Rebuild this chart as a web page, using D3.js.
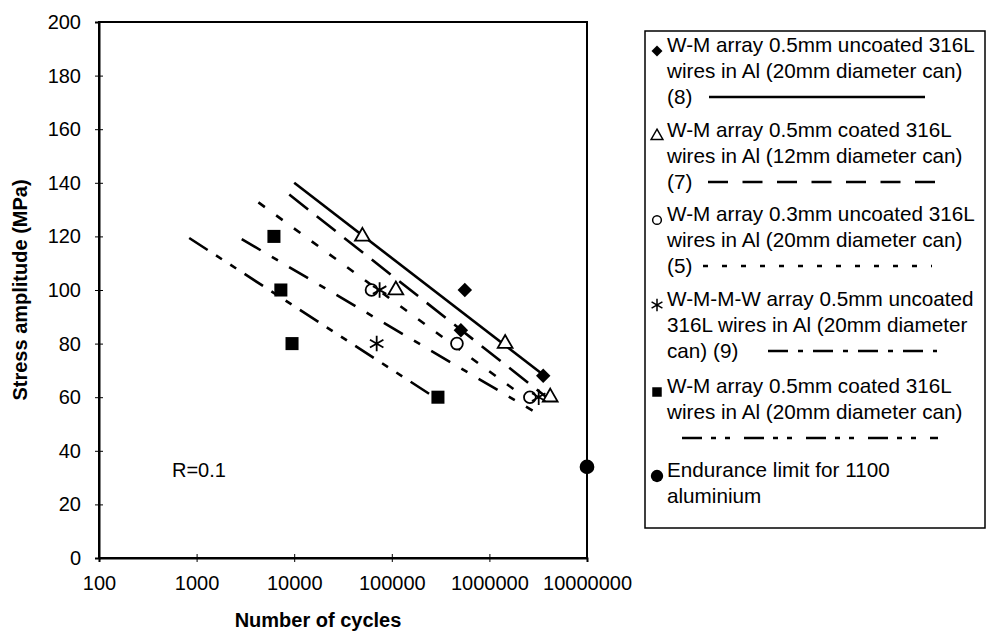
<!DOCTYPE html>
<head>
<meta charset="utf-8">
<style>
body {
    margin: 0;
    background: #fff;
}
text {
    font-family: "Liberation Sans", Arial, sans-serif;
    fill: #000;
}
.tick line, .domain {
    stroke: #000;
}
.axis-title {
    font-size: 20px;
    font-weight: bold;
}
.legend text {
    font-size: 20.7px;
}
</style>
</head>
<body>
    <div class="chart"></div>

<script src="https://d3js.org/d3.v7.min.js"></script>

<script>
// points: [cycles, stress amplitude MPa]
const uncoated05Wire20 = [[5.6e5, 100], [5.1e5, 85], [3.56e6, 68]];
const coated05Wire12 = [[5.0e4, 120], [1.1e5, 100], [1.45e6, 80], [4.2e6, 60]];
const uncoated03Wire20 = [[6.2e4, 100], [4.65e5, 80], [2.6e6, 60]];
const wmmwUncoated05 = [[7.5e4, 100], [7.0e4, 80], [3.2e6, 60]];
const coated05Wire20 = [[6.2e3, 120], [7.3e3, 100], [9.5e3, 80], [2.97e5, 60]];
const enduranceLimit = [[1e7, 34]];

// trend line ends as drawn in the picture
const trendUncoated05Wire20 = [[1.0e4, 140], [3.67e6, 68]];
const trendCoated05Wire12 = [[8.9e3, 135.6], [3.85e6, 60]];
const trendUncoated03Wire20 = [[4.3e3, 132.7], [2.4e6, 59.5]];
const trendWmmwUncoated05 = [[2.9e3, 119], [2.77e6, 55]];
const trendCoated05Wire20 = [[840, 119.4], [2.6e5, 60.5]];

const xTicks = [100, 1000, 10000, 100000, 1000000, 10000000];
const yTicks = [0, 20, 40, 60, 80, 100, 120, 140, 160, 180, 200];

const legendLabels = [
    ["W-M array 0.5mm uncoated 316L", "wires in Al (20mm diameter can)", "(8)"],
    ["W-M array 0.5mm coated 316L", "wires in Al (12mm diameter can)", "(7)"],
    ["W-M array 0.3mm uncoated 316L", "wires in Al (20mm diameter can)", "(5)"],
    ["W-M-M-W array 0.5mm uncoated", "316L wires in Al (20mm diameter", "can) (9)"],
    ["W-M array 0.5mm coated 316L", "wires in Al (20mm diameter can)"],
    ["Endurance limit for 1100", "aluminium"]
];

// how each series is drawn (diamond = square turned 45 degrees)
const series = [
    {points: uncoated05Wire20, trend: trendUncoated05Wire20, symbol: d3.symbolSquare, rotate: 45, size: 105, fill: "#000",
     dash: null, legendDash: null, legendLine: [709, 925], legendSize: 60},
    {points: coated05Wire12, trend: trendCoated05Wire12, symbol: d3.symbolTriangle, rotate: 0, size: 95, fill: "#fff",
     dash: "24,11", legendDash: "20,14.5", legendLine: [708, 937], legendSize: 60},
    {points: uncoated03Wire20, trend: trendUncoated03Wire20, symbol: d3.symbolCircle, rotate: 0, size: 110, fill: "#fff",
     dash: "8,14", legendDash: "5,14", legendLine: [703, 932], legendSize: 60},
    {points: wmmwUncoated05, trend: trendWmmwUncoated05, symbol: d3.symbolAsterisk, rotate: 0, size: 170, fill: "none",
     dash: "22,13,7,13", legendDash: "20,10,5,10", legendLine: [768, 937], legendSize: 110},
    {points: coated05Wire20, trend: trendCoated05Wire20, symbol: d3.symbolSquare, rotate: 0, size: 170, fill: "#000",
     dash: "22,10,7,10,7,10", legendDash: "20,9,5,9,5,14", legendLine: [682, 938], legendSize: 90},
    {points: enduranceLimit, trend: null, symbol: d3.symbolCircle, rotate: 0, size: 170, fill: "#000",
     dash: null, legendDash: null, legendLine: null, legendSize: 120}
];

const width = 987, height = 637;
const plot = {left: 99, right: 587, top: 22, bottom: 558};

const svg = d3.select(".chart")
              .append("svg")
                  .attr("width", width)
                  .attr("height", height);

const xScale = d3.scaleLog()
                 .domain([100, 1e7])
                 .range([plot.left, plot.right]);
const yScale = d3.scaleLinear()
                 .domain([0, 200])
                 .range([plot.bottom, plot.top]);

// frame
svg.append("rect")
   .attr("x", plot.left)
   .attr("y", plot.top)
   .attr("width", plot.right - plot.left)
   .attr("height", plot.bottom - plot.top)
   .attr("fill", "none")
   .attr("stroke", "#000")
   .attr("stroke-width", 2);

// axes, cross ticks
const xAxis = d3.axisBottom(xScale)
                .tickValues(xTicks)
                .tickFormat(d3.format("d"))
                .tickSize(4)
                .tickPadding(14);
const yAxis = d3.axisLeft(yScale)
                .tickValues(yTicks)
                .tickSize(4)
                .tickPadding(14);

const gx = svg.append("g")
              .attr("transform", "translate(0," + plot.bottom + ")")
              .call(xAxis);
gx.selectAll(".tick line").attr("y1", -4).attr("stroke-width", 1);
gx.select(".domain").attr("stroke-width", 2);

const gy = svg.append("g")
              .attr("transform", "translate(" + plot.left + ",0)")
              .call(yAxis);
gy.selectAll(".tick line").attr("x1", 4).attr("stroke-width", 1);
gy.select(".domain").attr("stroke-width", 2);

svg.selectAll(".tick text").attr("font-size", 20).attr("font-family", null);

// axis titles
svg.append("text")
   .attr("class", "axis-title")
   .attr("x", 318)
   .attr("y", 627)
   .attr("text-anchor", "middle")
   .text("Number of cycles");
svg.append("text")
   .attr("class", "axis-title")
   .attr("transform", "translate(27," + ((plot.top + plot.bottom) / 2) + ") rotate(-90)")
   .attr("text-anchor", "middle")
   .text("Stress amplitude (MPa)");

svg.append("text")
   .attr("x", 172)
   .attr("y", 477)
   .attr("font-size", 20)
   .text("R=0.1");

// trend lines
const line = d3.line()
               .x(function(d) { return xScale(d[0]); })
               .y(function(d) { return yScale(d[1]); });

svg.append("g")
   .selectAll("path")
   .data(series.filter(function(s) { return s.trend; }))
   .enter()
   .append("path")
       .attr("d", function(s) { return line(s.trend); })
       .attr("fill", "none")
       .attr("stroke", "#000")
       .attr("stroke-width", 2.6)
       .attr("stroke-dasharray", function(s) { return s.dash; });

// markers
series.forEach(function(s) {
    svg.append("g")
       .selectAll("path")
       .data(s.points)
       .enter()
       .append("path")
           .attr("transform", function(d) {
               return "translate(" + xScale(d[0]) + "," + yScale(d[1]) + ") rotate(" + s.rotate + ")";
           })
           .attr("d", d3.symbol().type(s.symbol).size(s.size))
           .attr("fill", s.fill)
           .attr("stroke", "#000")
           .attr("stroke-width", s.fill === "#000" ? 0 : 1.8);
});

// legend
const legend = svg.append("g").attr("class", "legend");
legend.append("rect")
      .attr("x", 645)
      .attr("y", 31)
      .attr("width", 340)
      .attr("height", 497)
      .attr("fill", "#fff")
      .attr("stroke", "#000")
      .attr("stroke-width", 1.5);

const entryTop = [45, 130, 214, 299, 386, 470];
const lineGap = 26;

series.forEach(function(s, i) {
    const y0 = entryTop[i];
    legendLabels[i].forEach(function(t, j) {
        legend.append("text")
              .attr("x", 667)
              .attr("y", y0 + j * lineGap)
              .attr("dy", "0.35em")
              .text(t);
    });
    legend.append("path")
          .attr("transform", "translate(657," + (y0 + 6) + ") rotate(" + s.rotate + ")")
          .attr("d", d3.symbol().type(s.symbol).size(s.legendSize))
          .attr("fill", s.fill)
          .attr("stroke", "#000")
          .attr("stroke-width", s.fill === "#000" ? 0 : 1.5);
    if (s.legendLine) {
        const ly = y0 + 2 * lineGap;
        legend.append("line")
              .attr("x1", s.legendLine[0])
              .attr("x2", s.legendLine[1])
              .attr("y1", ly)
              .attr("y2", ly)
              .attr("stroke", "#000")
              .attr("stroke-width", 2.6)
              .attr("stroke-dasharray", s.legendDash);
    }
});
</script>
</body>
